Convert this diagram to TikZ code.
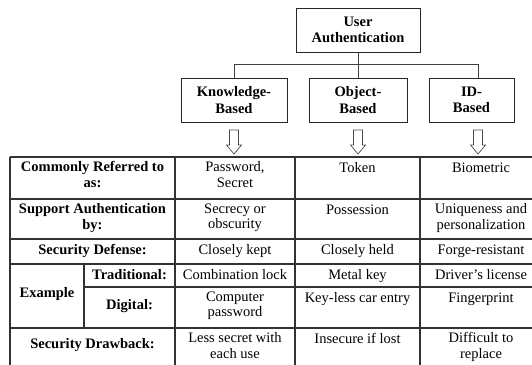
\documentclass[tikz,border=0pt]{standalone}
\usepackage{fontspec}
\setmainfont{Liberation Serif}
\usetikzlibrary{positioning,calc}

\begin{document}
\begin{tikzpicture}[x=1bp, y=-1bp,
        box/.style={draw=black!85, line width=0.9bp, minimum height=44bp, inner sep=0pt, align=center, font=\fontsize{14.5bp}{16.5bp}\selectfont\bfseries},
        cell/.style={anchor=north, align=center, inner sep=0pt, font=\fontsize{14.5bp}{15.5bp}\selectfont, execute at begin node=\strut},
        head/.style={cell, font=\fontsize{14.5bp}{15.5bp}\selectfont\bfseries},
        grid/.style={draw=black!80, line width=1.1bp},
        link/.style={draw=black!75, line width=0.9bp},
        pics/openarrow/.style={code={\draw[black!70, line width=0.7bp] (-4.5,0) -- (-4.5,15) -- (-7.5,15) -- (0,24) -- (7.5,15) -- (4.5,15) -- (4.5,0) -- cycle;}}
    ]
        \useasboundingbox (0,0) rectangle (532,364);
        \clip (0,0) rectangle (532,364);

        % Hierarchy boxes
        \node[box, minimum width=124bp] (ua) at (358,30) {User\\Authentication};
        \node[box, minimum width=106bp] (kb) at (234,100) {Knowledge-\\Based};
        \node[box, minimum width=98bp] (ob) at (358,100) {Object-\\Based};
        \node[box, minimum width=85bp] (idb) at (471.5,100) {ID-\\Based};

        % Tree lines
        \coordinate (fork) at ($(ua.south)+(0,12)$);
        \draw[link] (ua.south) -- (fork);
        \draw[link] (fork) -| (kb.north);
        \draw[link] (fork) -| ([xshift=6.5bp]idb.north);
        \draw[link] (fork) -- (ob.north);

        % Open arrows
        \pic (arrk) at (kb.south |- 0,130) {openarrow};
        \pic (arro) at (ob.south |- 0,130) {openarrow};
        \pic (arri) at ([xshift=6.5bp]idb.south |- 0,130) {openarrow};

        % Table rules
        \draw[grid, line width=2bp] (10,157) -- (545,157);
        \foreach \y in {199,239,264,328}
            \draw[grid] (10,\y) -- (545,\y);
        \draw[grid] (84,287) -- (545,287);
        \foreach \x in {10,175,295,420}
            \draw[grid] (\x,157) -- (\x,370);
        \draw[grid] (84,264) -- (84,328);

        % Row: referred to
        \node[head] (refer) at (92.5,161.5) {Commonly Referred to\\as:};
        \node[cell] (kref) at (235,161.5) {Password,\\Secret};
        \node[cell] (oref) at (357.5,161.5) {Token};
        \node[cell] (iref) at (481,161.5) {Biometric};

        % Row: support
        \node[head] (support) at (92.5,203.5) {Support Authentication\\by:};
        \node[cell] (ksup) at (235,203.5) {Secrecy or\\obscurity};
        \node[cell] (osup) at (357.5,203.5) {Possession};
        \node[cell] (isup) at (481,203.5) {Uniqueness and\\personalization};

        % Row: defense
        \node[head] (defense) at (92.5,243.5) {Security Defense:};
        \node[cell] (kdef) at (235,243.5) {Closely kept};
        \node[cell] (odef) at (357.5,243.5) {Closely held};
        \node[cell] (idef) at (481,243.5) {Forge-resistant};

        % Rows: example
        \node[head, anchor=center] (example) at (47,294) {Example};
        \node[head] (trad) at (129.5,268.5) {Traditional:};
        \node[cell] (ktrad) at (235,268.5) {Combination lock};
        \node[cell] (otrad) at (357.5,268.5) {Metal key};
        \node[cell] (itrad) at (481,268.5) {Driver’s license};
        \node[head, anchor=center] (digital) at (129.5,306) {Digital:};
        \node[cell] (kdig) at (235,291.5) {Computer\\password};
        \node[cell] (odig) at (357.5,291.5) {Key-less car entry};
        \node[cell] (idig) at (481,291.5) {Fingerprint};

        % Row: drawback
        \node[head, anchor=center] (drawback) at (92.5,345) {Security Drawback:};
        \node[cell] (kdraw) at (235,332.5) {Less secret with\\each use};
        \node[cell] (odraw) at (357.5,332.5) {Insecure if lost};
        \node[cell] (idraw) at (481,332.5) {Difficult to\\replace};
    \end{tikzpicture}
\end{document}
